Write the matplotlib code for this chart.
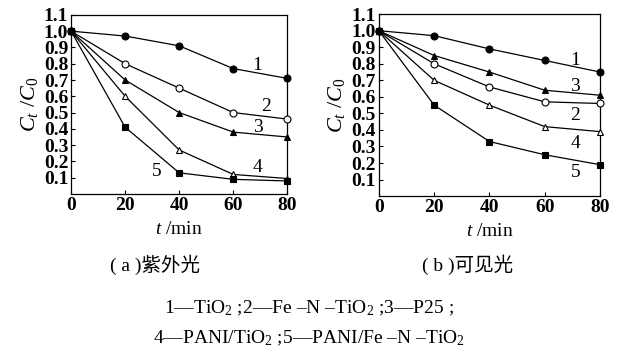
import numpy as np
import matplotlib.pyplot as plt

plt.rcParams['font.family'] = ['Liberation Serif', 'Noto Sans CJK SC']
plt.rcParams['mathtext.fontset'] = 'custom'
plt.rcParams['mathtext.rm'] = 'Liberation Serif'
plt.rcParams['mathtext.it'] = 'Liberation Serif:italic'

t = [0, 20, 40, 60, 80]

# (a) UV light
uv_1 = [1.0, 0.97, 0.91, 0.77, 0.71]
uv_2 = [1.0, 0.80, 0.65, 0.50, 0.46]
uv_3 = [1.0, 0.70, 0.50, 0.38, 0.35]
uv_4 = [1.0, 0.60, 0.27, 0.12, 0.095]
uv_5 = [1.0, 0.41, 0.13, 0.09, 0.08]

# (b) visible light
vis_1 = [1.0, 0.97, 0.89, 0.82, 0.75]
vis_2 = [1.0, 0.80, 0.66, 0.57, 0.56]
vis_3 = [1.0, 0.85, 0.75, 0.64, 0.61]
vis_4 = [1.0, 0.70, 0.55, 0.42, 0.39]
vis_5 = [1.0, 0.55, 0.33, 0.25, 0.19]

yticks = [0.1, 0.2, 0.3, 0.4, 0.5, 0.6, 0.7, 0.8, 0.9, 1.0, 1.1]
xticks = [0, 20, 40, 60, 80]

# marker style per series: (marker, filled)
styles = {1: ('o', True), 2: ('o', False), 3: ('^', True), 4: ('^', False), 5: ('s', True)}

# curve numbers, placed by hand like in the paper
labels_a = {1: (69, 0.79), 2: (72, 0.535), 3: (69, 0.41), 4: (69, 0.16), 5: (31.5, 0.14)}
labels_b = {1: (71, 0.82), 3: (71, 0.66), 2: (71, 0.49), 4: (71, 0.32), 5: (71, 0.14)}

fig = plt.figure(figsize=(6.18, 3.54), dpi=100)
ax1 = fig.add_axes([0.115, 0.452, 0.350, 0.506])
ax2 = fig.add_axes([0.613, 0.446, 0.358, 0.514])


def draw(ax, series, labels):
    for k, y in series.items():
        m, filled = styles[k]
        ax.plot(t, y, color='black', lw=0.9, marker=m, markersize=5,
                markerfacecolor='black' if filled else 'white',
                markeredgecolor='black', markeredgewidth=0.8, clip_on=False, zorder=3)
    for k, (x, y) in labels.items():
        ax.text(x, y, str(k), fontsize=14, ha='center', va='center')
    ax.set_xlim(0, 80)
    ax.set_ylim(0, 1.1)
    ax.set_xticks(xticks)
    ax.set_yticks(yticks)
    ax.set_yticklabels(['%.1f' % v for v in yticks])
    ax.tick_params(direction='in', length=3, width=0.8, labelsize=14, pad=2)
    for lab in ax.get_xticklabels() + ax.get_yticklabels():
        lab.set_fontweight('bold')
    for s in ax.spines.values():
        s.set_linewidth(0.9)
    ax.set_xlabel('$t$ /min', fontsize=14, labelpad=5)
    ax.set_ylabel('$C_t$ /$C_0$', fontsize=16, labelpad=3)


draw(ax1, {1: uv_1, 2: uv_2, 3: uv_3, 4: uv_4, 5: uv_5}, labels_a)
draw(ax2, {1: vis_1, 2: vis_2, 3: vis_3, 4: vis_4, 5: vis_5}, labels_b)

fig.text(155 / 618, 1 - 265 / 354, '( a )紫外光', fontsize=14, ha='center', va='center')
fig.text(468 / 618, 1 - 265 / 354, '( b )可见光', fontsize=14, ha='center', va='center')
fig.text(0.5, 1 - 308 / 354, '1—TiO$_2$ ;2—Fe –N –TiO$_2$ ;3—P25 ;',
         fontsize=14, ha='center', va='center')
fig.text(0.5, 1 - 338 / 354, '4—PANI/TiO$_2$ ;5—PANI/Fe –N –TiO$_2$',
         fontsize=14, ha='center', va='center')

fig.savefig('out.png', dpi=100)
